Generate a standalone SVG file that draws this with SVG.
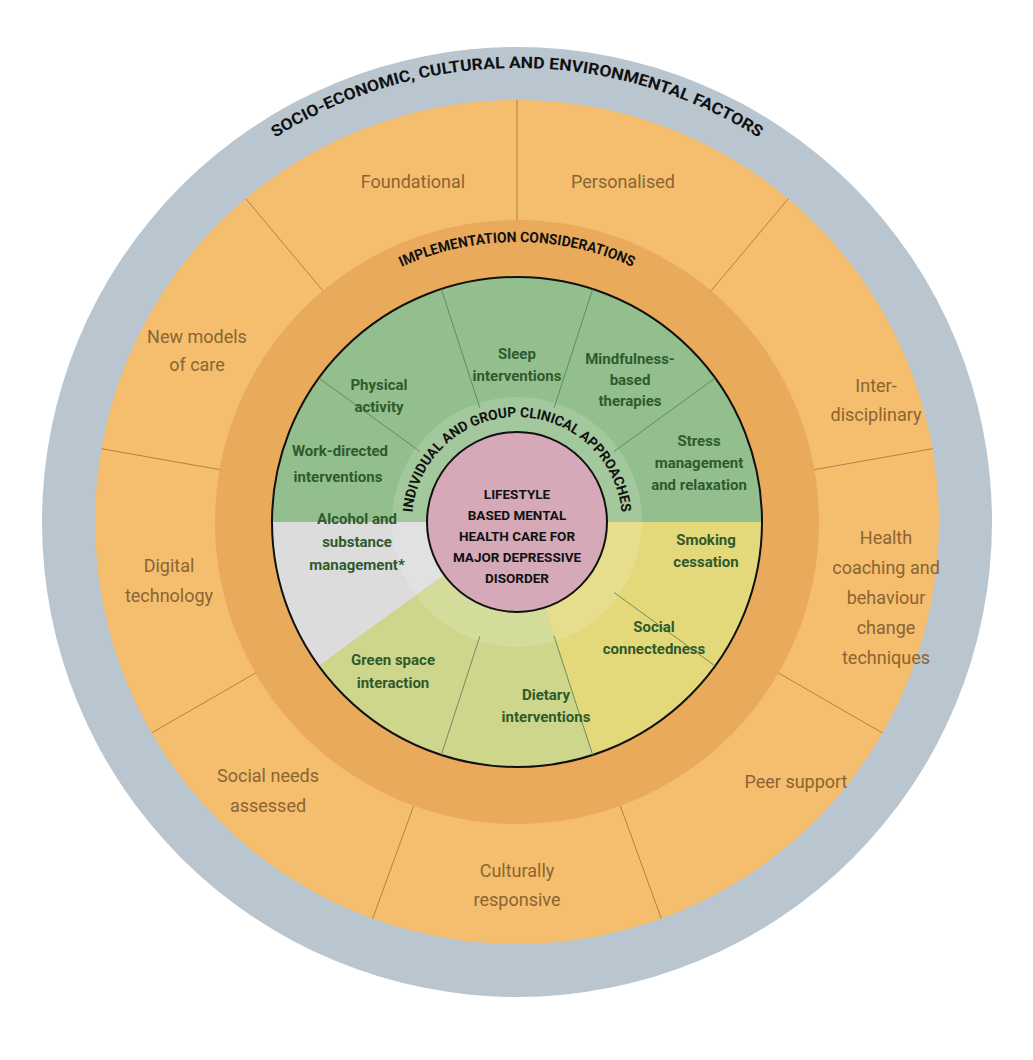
<svg xmlns="http://www.w3.org/2000/svg" width="1033" height="1060" viewBox="0 0 1033 1060">
<style>
.o{font-family:"Roboto","Liberation Sans",sans-serif;font-size:18px;fill:#8a6532;text-anchor:middle}
.g{font-family:"Roboto","Liberation Sans",sans-serif;font-size:15px;font-weight:bold;fill:#2f5a2c;text-anchor:middle}
.c{font-family:"Roboto","Liberation Sans",sans-serif;font-size:13.5px;font-weight:bold;fill:#111;text-anchor:middle}
.a{font-family:"Roboto","Liberation Sans",sans-serif;font-weight:bold;fill:#111;text-anchor:middle}
.lo{stroke:#9a7240;stroke-width:0.8}
.li{stroke:#5a7a55;stroke-width:0.8}
</style>
<defs>
<path id="p1" d="M63,522 A454,454 0 0 1 971,522"/>
<path id="p2" d="M237,522 A280,280 0 0 1 797,522"/>
<path id="p3" d="M412,522 A105,105 0 0 1 622,522"/>
</defs>
<rect width="1033" height="1060" fill="#fff"/>
<g id="rings">
<circle cx="517" cy="522" r="475" fill="#b9c5cf"/>
<circle cx="517" cy="522" r="422" fill="#f5bd6e"/>
<circle cx="517" cy="522" r="302" fill="#e9aa5b"/>
<path d="M272,522 A245,245 0 0 1 762,522 Z" fill="#93bf8e"/>
<path d="M517,522 L762,522 A245,245 0 0 1 592.7,755 Z" fill="#e3d97a"/>
<path d="M517,522 L592.7,755 A245,245 0 0 1 318.8,666 Z" fill="#cdd68a"/>
<path d="M517,522 L318.8,666 A245,245 0 0 1 272,522 Z" fill="#dcdcdc"/>
<circle cx="517" cy="522" r="245" fill="none" stroke="#111" stroke-width="2"/>
<circle cx="517" cy="522" r="125" fill="#fff" fill-opacity="0.15"/>
</g>
<g id="connectors">
<path class="lo" d="M517,220L517,100M711.1,290.7L788.3,198.7M814.4,469.6L932.6,448.7M778.5,673L882.5,733M620.3,805.8L661.3,918.6M413.7,805.8L372.7,918.6M255.5,673L151.5,733M219.6,469.6L101.4,448.7M322.9,290.7L245.7,198.7"/>
<path class="li" d="M554.1,407.9L592.7,289M479.9,407.9L441.3,289M614.1,451.5L715.2,378M419.9,451.5L318.8,378M614.1,592.5L715.2,666M554.1,636.1L592.7,755M479.9,636.1L441.3,755"/>
</g>
<g id="arcs">
<text class="a" font-size="16"><textPath href="#p1" startOffset="50%" textLength="510" lengthAdjust="spacingAndGlyphs">SOCIO-ECONOMIC, CULTURAL AND ENVIRONMENTAL FACTORS</textPath></text>
<text class="a" font-size="14.5"><textPath href="#p2" startOffset="50%" textLength="238" lengthAdjust="spacingAndGlyphs">IMPLEMENTATION CONSIDERATIONS</textPath></text>
<text class="a" font-size="14"><textPath href="#p3" startOffset="50%" textLength="310" lengthAdjust="spacingAndGlyphs">INDIVIDUAL AND GROUP CLINICAL APPROACHES</textPath></text>
</g>
<g id="outer">
<text class="o" x="413" y="188">Foundational</text>
<text class="o" x="623" y="188">Personalised</text>
<text class="o" x="876" y="392">Inter-<tspan x="876" dy="29">disciplinary</tspan></text>
<text class="o" x="886" y="544">Health<tspan x="886" dy="30">coaching and</tspan><tspan x="886" dy="30">behaviour</tspan><tspan x="886" dy="30">change</tspan><tspan x="886" dy="30">techniques</tspan></text>
<text class="o" x="796" y="788">Peer support</text>
<text class="o" x="517" y="877">Culturally<tspan x="517" dy="29">responsive</tspan></text>
<text class="o" x="268" y="782">Social needs<tspan x="268" dy="30">assessed</tspan></text>
<text class="o" x="169" y="572">Digital<tspan x="169" dy="30">technology</tspan></text>
<text class="o" x="197" y="343">New models<tspan x="197" dy="28">of care</tspan></text>
</g>
<g id="inner">
<text class="g" x="379" y="390">Physical<tspan x="379" dy="22">activity</tspan></text>
<text class="g" x="517" y="359">Sleep<tspan x="517" dy="22">interventions</tspan></text>
<text class="g" x="630" y="364">Mindfulness-<tspan x="630" dy="21">based</tspan><tspan x="630" dy="21">therapies</tspan></text>
<text class="g" x="340" y="456">Work-directed<tspan x="338" dy="26">interventions</tspan></text>
<text class="g" x="699" y="446">Stress<tspan x="699" dy="22">management</tspan><tspan x="699" dy="22">and relaxation</tspan></text>
<text class="g" x="706" y="545">Smoking<tspan x="706" dy="22">cessation</tspan></text>
<text class="g" x="654" y="632">Social<tspan x="654" dy="22">connectedness</tspan></text>
<text class="g" x="546" y="700">Dietary<tspan x="546" dy="22">interventions</tspan></text>
<text class="g" x="393" y="665">Green space<tspan x="393" dy="23">interaction</tspan></text>
<text class="g" x="357" y="524">Alcohol and<tspan x="357" dy="23">substance</tspan><tspan x="357" dy="23">management*</tspan></text>
</g>
<g id="center">
<circle cx="517" cy="522" r="90" fill="#d5a9b7" stroke="#111" stroke-width="2"/>
<text class="c" x="517" y="499">LIFESTYLE<tspan x="517" dy="21">BASED MENTAL</tspan><tspan x="517" dy="21">HEALTH CARE FOR</tspan><tspan x="517" dy="21">MAJOR DEPRESSIVE</tspan><tspan x="517" dy="21">DISORDER</tspan></text>
</g>
</svg>
